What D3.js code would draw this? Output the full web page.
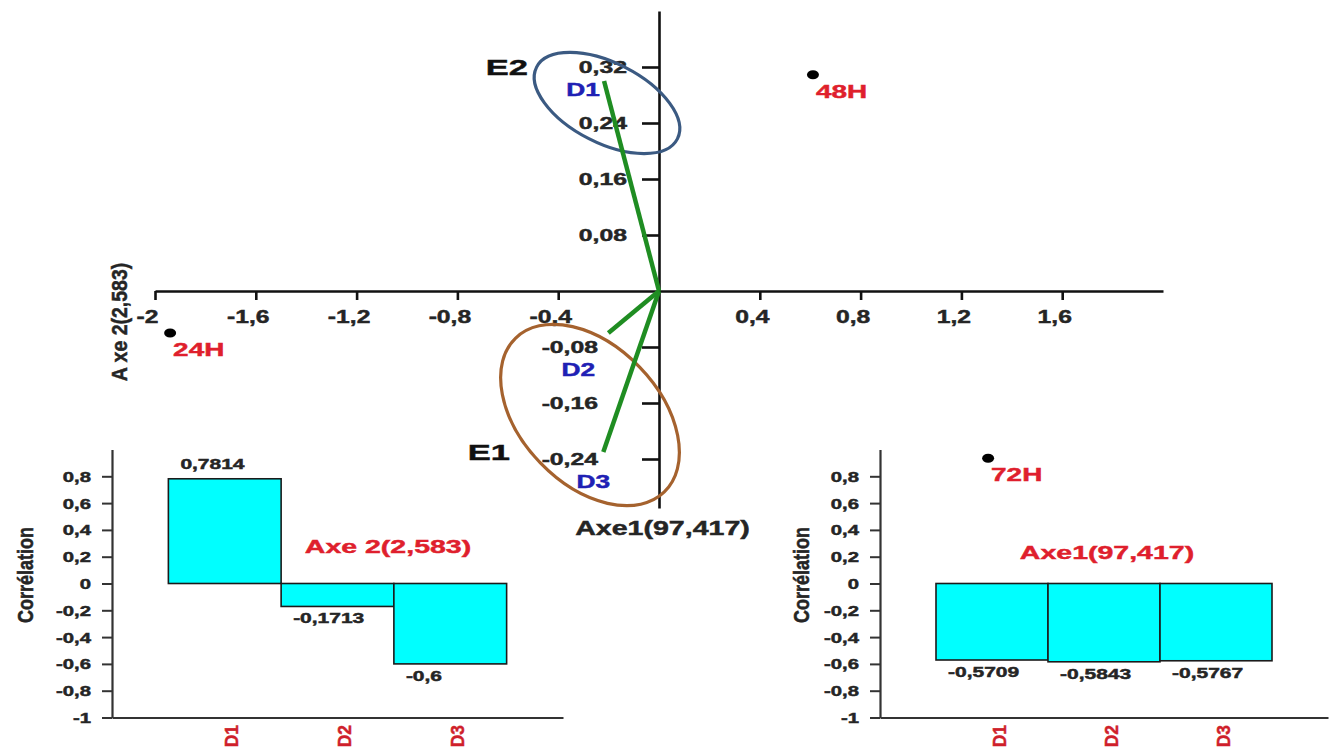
<!DOCTYPE html>
<html>
<head>
<meta charset="utf-8">
<script src="https://cdnjs.cloudflare.com/ajax/libs/d3/7.8.5/d3.min.js"></script>
<style>
  body { margin: 0; background: #ffffff; }
  svg text { font-family: "Liberation Sans", Arial, sans-serif; font-weight: bold; }
</style>
</head>
<body>
<svg id="chart" width="1338" height="748"></svg>
<script>
// ------------------------- data -------------------------
const individuals = ["24H", "48H", "72H"];
const indAxe1 = [-1.94, 0.611, 1.306];
const indAxe2 = [-0.06, 0.309, -0.239];

const variables = ["D1", "D2", "D3"];
const varAxe1 = [-0.218, -0.201, -0.221];
const varAxe2 = [0.300, -0.060, -0.230];

const groupNames = ["E2", "E1"];

const xTicks = [-2, -1.6, -1.2, -0.8, -0.4, 0.4, 0.8, 1.2, 1.6];
const yTicks = [0.32, 0.24, 0.16, 0.08, -0.08, -0.16, -0.24];

const barCategories = ["D1", "D2", "D3"];
const corrAxe2 = [0.7814, -0.1713, -0.6];
const corrAxe1 = [-0.5709, -0.5843, -0.5767];
const corrTicks = [0.8, 0.6, 0.4, 0.2, 0, -0.2, -0.4, -0.6, -0.8, -1];

const mainXTitle = "Axe1(97,417)";
const mainYTitle = "A xe 2(2,583)";
const barTitles = ["Axe 2(2,583)", "Axe1(97,417)"];
const barYTitle = "Corrélation";
// --------------------------------------------------------

const svg = d3.select("#chart");
const fmt = d => String(d).replace(".", ",");
const TXT = "#252525";
const RED = "#df1f2d";
const BLUE = "#2020b4";

// ---------- main factorial plane ----------
const x = d3.scaleLinear().domain([-2, 2]).range([155, 1163]);
const y = d3.scaleLinear().domain([-0.31, 0.4]).range([508, 11]);

const gx = svg.append("g")
  .attr("transform", `translate(0,${y(0)})`)
  .call(d3.axisBottom(x).tickValues(xTicks).tickSize(9).tickSizeOuter(0).tickFormat(fmt));
gx.select(".domain").attr("stroke", "#111").attr("stroke-width", 2.6);
gx.selectAll(".tick line").attr("stroke", "#111").attr("stroke-width", 2.6);
gx.selectAll(".tick text")
  .attr("y", null).attr("dy", null)
  .attr("transform", "translate(-8,32) scale(1.3,1)")
  .attr("fill", TXT)
  .style("font-size", "19px");

const gy = svg.append("g")
  .attr("transform", `translate(${x(0)},0)`)
  .call(d3.axisLeft(y).tickValues(yTicks).tickSize(17).tickSizeOuter(0).tickFormat(fmt));
gy.select(".domain").attr("stroke", "#111").attr("stroke-width", 2.6);
gy.selectAll(".tick line").attr("stroke", "#111").attr("stroke-width", 2.6);
gy.selectAll(".tick text")
  .attr("x", null)
  .attr("dy", "0.36em")
  .attr("transform", d => `translate(${d > 0 ? -32 : -61},0) scale(1.5,1)`)
  .attr("fill", TXT)
  .style("font-size", "16.5px");

// group ellipses (annotations)
const ellipses = [
  { name: groupNames[0], cx: x.invert(607), cy: y.invert(103), rx: 79, ry: 40, rot: 27, color: "#3b5a82", lab: [-79, -28] },
  { name: groupNames[1], cx: x.invert(590), cy: y.invert(415), rx: 107, ry: 69, rot: 46, color: "#a5622e", lab: [-80, 45] }
];
ellipses.forEach(e => {
  svg.append("ellipse")
    .attr("transform", `translate(${x(e.cx)},${y(e.cy)}) rotate(${e.rot})`)
    .attr("rx", e.rx).attr("ry", e.ry)
    .attr("fill", "none").attr("stroke", e.color).attr("stroke-width", 3.2);
  svg.append("text")
    .attr("transform", `translate(${x(e.cx) + e.lab[0]},${y(e.cy) + e.lab[1]}) scale(1.5,1)`)
    .attr("text-anchor", "end")
    .attr("fill", "#111")
    .style("font-size", "23px")
    .style("font-weight", "900")
    .text(e.name);
});

// variable vectors
const varLabelOffset = [[-21, 9], [-30, 37], [-10, 30]];
variables.forEach((v, i) => {
  svg.append("line")
    .attr("x1", x(0)).attr("y1", y(0))
    .attr("x2", x(varAxe1[i])).attr("y2", y(varAxe2[i]))
    .attr("stroke", "#1f8d22").attr("stroke-width", 4.5);
});
variables.forEach((v, i) => {
  svg.append("text")
    .attr("transform", `translate(${x(varAxe1[i]) + varLabelOffset[i][0]},${y(varAxe2[i]) + varLabelOffset[i][1]}) scale(1.5,1)`)
    .attr("text-anchor", "middle").attr("dy", "0.36em")
    .attr("fill", BLUE)
    .style("font-size", "17.5px")
    .text(v);
});

// individuals
individuals.forEach((s, i) => {
  svg.append("ellipse")
    .attr("cx", x(indAxe1[i])).attr("cy", y(indAxe2[i]))
    .attr("rx", 6).attr("ry", 4.5).attr("fill", "#000");
  svg.append("text")
    .attr("transform", `translate(${x(indAxe1[i]) + 3},${y(indAxe2[i]) + 23}) scale(1.55,1)`)
    .attr("fill", RED)
    .style("font-size", "18px")
    .text(s);
});

// main axis titles
svg.append("text")
  .attr("transform", `translate(${x(0) + 3.5},535) scale(1.43,1)`)
  .attr("text-anchor", "middle").attr("fill", TXT)
  .style("font-size", "20px")
  .text(mainXTitle);
svg.append("text")
  .attr("transform", "translate(127,322) scale(1.1,1) rotate(-90)")
  .attr("text-anchor", "middle").attr("fill", TXT)
  .style("font-size", "19.5px")
  .text(mainYTitle);

// ---------- correlation bar charts ----------
function barChart(left, right, values, title, titleX, titleY, yTitleX) {
  const xB = d3.scaleBand().domain(barCategories).range([left, right]).paddingInner(0).paddingOuter(0.5);
  const yB = d3.scaleLinear().domain([-1, 1]).range([717.5, 449.5]);
  const g = svg.append("g");

  const ga = g.append("g")
    .attr("transform", `translate(${left},0)`)
    .call(d3.axisLeft(yB).tickValues(corrTicks).tickSize(10).tickSizeOuter(0).tickFormat(fmt));
  ga.select(".domain").attr("stroke", "#333").attr("stroke-width", 2.2);
  ga.selectAll(".tick line").attr("stroke", "#333").attr("stroke-width", 2);
  ga.selectAll(".tick text")
    .attr("x", null).attr("dy", "0.36em")
    .attr("transform", "translate(-21,0) scale(1.45,1)")
    .attr("fill", TXT)
    .style("font-size", "14px");

  const gb = g.append("g")
    .attr("transform", `translate(0,${yB(-1)})`)
    .call(d3.axisBottom(xB).tickSize(0).tickSizeOuter(0));
  gb.select(".domain").attr("stroke", "#333").attr("stroke-width", 2);
  gb.selectAll(".tick text")
    .attr("y", null).attr("dy", null)
    .attr("text-anchor", "end")
    .attr("transform", "translate(13.5,7.5) scale(1.1,1) rotate(-90)")
    .attr("fill", "#cf1f2b")
    .style("font-size", "17.5px");

  g.selectAll("rect.bar").data(values).join("rect")
    .attr("class", "bar")
    .attr("x", (d, i) => xB(barCategories[i]))
    .attr("width", xB.bandwidth())
    .attr("y", d => yB(Math.max(0, d)))
    .attr("height", d => Math.abs(yB(d) - yB(0)))
    .attr("fill", "#00ffff")
    .attr("stroke", "#1b1b1b").attr("stroke-width", 1.6);

  g.selectAll("text.val").data(values).join("text")
    .attr("class", "val")
    .attr("transform", (d, i) => `translate(${xB(barCategories[i]) + 12},${d >= 0 ? yB(d) - 9.5 : yB(d) + 17}) scale(1.5,1)`)
    .attr("fill", TXT)
    .style("font-size", "14px")
    .text(fmt);

  g.append("text")
    .attr("transform", `translate(${titleX},${titleY}) scale(1.5,1)`)
    .attr("text-anchor", "middle").attr("fill", RED)
    .style("font-size", "19px")
    .text(title);

  g.append("text")
    .attr("transform", `translate(${yTitleX},575) scale(1.2,1) rotate(-90)`)
    .attr("text-anchor", "middle").attr("fill", TXT)
    .style("font-size", "18px")
    .text(barYTitle);
}

barChart(112, 563, corrAxe2, barTitles[0], 388, 553, 33);
barChart(880, 1328, corrAxe1, barTitles[1], 1107, 558.5, 809);

// slightly heavier glyphs, like the blurred original
svg.selectAll("text").each(function () {
  const f = d3.select(this).attr("fill");
  this.style.stroke = f;
  this.style.strokeWidth = "0.45px";
});
</script>
</body>
</html>
